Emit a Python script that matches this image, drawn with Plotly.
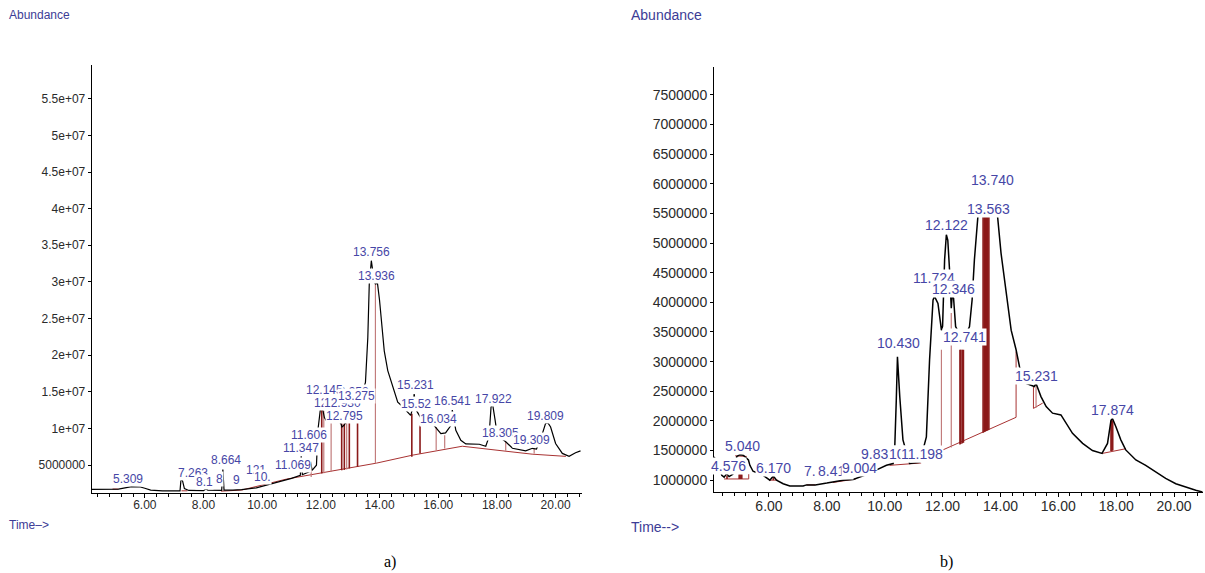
import plotly.graph_objects as go

# ---------------- Panel a) data ----------------
a_time = [4.19, 4.9, 5.1, 5.55, 5.85, 6.0, 6.2, 6.6, 7.2, 7.23, 7.28, 7.35, 7.5, 8.0, 8.08, 8.15,
          8.62, 8.66, 8.70, 9.0, 9.3, 9.8, 10.3, 10.8, 11.0, 11.3, 11.33, 11.37, 11.6, 11.65, 11.7,
          11.85, 11.9, 11.98, 12.05, 12.12, 12.2, 12.4, 12.6, 12.68, 12.72, 12.78, 12.85, 13.0,
          13.3, 13.45, 13.52, 13.6, 13.65, 13.72, 13.76, 13.82, 13.86, 13.93, 14.0, 14.05, 14.16,
          14.28, 14.45, 14.62, 14.73, 15.01, 15.06, 15.12, 15.18, 15.25, 15.4, 15.7, 15.86, 16.09,
          16.25, 16.43, 16.48, 16.6, 16.77, 16.94, 17.4, 17.62, 17.73, 17.8, 17.85, 17.94, 17.98,
          18.1, 18.3, 18.53, 18.98, 19.21, 19.35, 19.55, 19.66, 19.74, 19.83, 20.0, 20.23, 20.46,
          20.68, 20.85]
a_abund = [1.70e6, 1.70e6, 1.72e6, 2.06e6, 2.02e6, 1.85e6, 1.6e6, 1.5e6, 1.5e6, 2.9e6, 2.95e6,
           1.8e6, 1.55e6, 1.52e6, 1.75e6, 1.6e6, 1.55e6, 4.4e6, 1.6e6, 1.6e6, 1.65e6, 1.9e6, 2.4e6,
           2.9e6, 3.2e6, 3.6e6, 6.2e6, 3.7e6, 4.1e6, 5.5e6, 4.3e6, 5.0e6, 9.8e6, 12.5e6, 12.9e6,
           11.5e6, 11.0e6, 11.5e6, 10.9e6, 10.7e6, 10.2e6, 10.4e6, 10.8e6, 11.5e6, 13.5e6, 15.5e6,
           16.3e6, 22.4e6, 29.7e6, 32.9e6, 31.8e6, 30.0e6, 29.7e6, 29.8e6, 27.5e6, 25.1e6, 20.6e6,
           17.9e6, 15.6e6, 13.6e6, 13.2e6, 12.1e6, 11.8e6, 12.6e6, 14.7e6, 12.5e6, 11.5e6, 10.8e6,
           10.4e6, 9.3e6, 9.4e6, 10.4e6, 12.5e6, 9.75e6, 8.4e6, 7.9e6, 7.85e6, 7.58e6, 8.85e6,
           12.9e6, 13.4e6, 11.1e6, 10.0e6, 8.8e6, 8.2e6, 7.3e6, 6.95e6, 7.3e6, 7.2e6, 9.3e6,
           10.7e6, 10.75e6, 10.2e6, 7.95e6, 6.6e6, 6.2e6, 6.7e6, 6.95e6]

a_base_t = [[4.9, 5.1], [7.25, 7.45], [8.6, 9.3, 10.83, 13.89, 15.12, 16.82, 18.31, 19.2, 20.35]]
a_base_a = [[1.74e6, 1.74e6], [1.5e6, 1.5e6],
            [1.45e6, 1.6e6, 3.1e6, 5.27e6, 6.36e6, 7.58e6, 6.9e6, 6.5e6, 6.2e6]]

a_drop_t = [11.67, 12.03, 12.10, 12.35, 12.71, 12.80, 12.88, 12.97, 13.25, 13.86, 15.10, 15.38,
            15.93, 16.22, 18.30, 19.27]
a_drop_lo = [3.4e6, 3.87e6, 3.9e6, 4.1e6, 4.3e6, 4.35e6, 4.4e6, 4.55e6, 4.77e6, 5.23e6, 6.13e6,
             6.6e6, 7.04e6, 7.27e6, 6.95e6, 6.6e6]
a_drop_hi = [5.2e6, 12.9e6, 12.5e6, 12.0e6, 10.7e6, 10.7e6, 10.8e6, 10.8e6, 12.0e6, 29.7e6, 12.0e6,
             10.4e6, 10.2e6, 9.08e6, 8.17e6, 7.27e6]
a_drop_dark = [False, True, False, False, True, True, False, True, True, False, True, True,
               False, False, False, False]

# labels are listed in drawing order (later ones cover earlier ones, as in the reference)
a_labels = ["5.309", "7.263", "8.1", "8", "9", "8.664", "121", "10.", "11.069", "11.347",
            "11.606", "12.958", "12.145", "12.18", "12.930", "12.795", "13.275", "13.756",
            "13.936", "15.231", "15.52", "16.034", "16.541", "17.922", "18.305", "19.309", "19.809"]
a_label_t = [5.43, 7.64, 8.02, 8.55, 9.12, 8.78, 9.8, 10.0, 11.05, 11.33, 11.59, 13.0, 12.12,
             12.27, 12.75, 12.8, 13.2, 13.71, 13.88, 15.21, 15.24, 16.0, 16.47, 17.87, 18.13,
             19.17, 19.66]
a_label_a = [3.1e6, 3.95e6, 2.74e6, 3.1e6, 2.96e6, 5.68e6, 4.3e6, 3.35e6, 5.0e6, 7.35e6, 9.17e6,
             15.0e6, 15.3e6, 13.5e6, 13.5e6, 11.66e6, 14.5e6, 34.1e6, 30.8e6, 15.9e6, 13.3e6,
             11.3e6, 13.7e6, 14.05e6, 9.4e6, 8.4e6, 11.75e6]

a_ytick_vals = [5e6, 1e7, 1.5e7, 2e7, 2.5e7, 3e7, 3.5e7, 4e7, 4.5e7, 5e7, 5.5e7]
a_ytick_text = ["5000000", "1e+07", "1.5e+07", "2e+07", "2.5e+07", "3e+07", "3.5e+07", "4e+07",
                "4.5e+07", "5e+07", "5.5e+07"]

# ---------------- Panel b) data ----------------
b_time = [4.1, 4.25, 4.37, 4.45, 4.54, 4.62, 4.75, 4.89, 5.0, 5.11, 5.29, 5.34, 5.45, 5.8, 6.03,
          6.15, 6.26, 6.49, 6.72, 7.18, 7.3, 7.6, 8.0, 8.22, 8.56, 8.91, 9.3, 9.7, 10.06, 10.29,
          10.34, 10.4, 10.44, 10.52, 10.63, 10.86, 11.21, 11.44, 11.55, 11.67, 11.72, 11.84, 11.96,
          12.0, 12.07, 12.13, 12.18, 12.24, 12.3, 12.33, 12.38, 12.45, 12.6, 12.8, 12.93, 13.02,
          13.1, 13.22, 13.4, 13.6, 13.74, 13.85, 13.9, 14.02, 14.19, 14.37, 14.54, 14.66, 14.89,
          15.17, 15.23, 15.4, 15.58, 15.8, 16.09, 16.2, 16.49, 16.84, 17.18, 17.51, 17.7, 17.82,
          17.87, 17.99, 18.16, 18.33, 18.68, 19.02, 19.37, 19.71, 20.06, 20.4, 20.75, 20.98]
b_abund = [1.39e6, 1.28e6, 1.08e6, 1.05e6, 1.11e6, 1.06e6, 1.1e6, 1.40e6, 1.43e6, 1.42e6, 1.34e6,
           1.25e6, 1.15e6, 1.08e6, 1.0e6, 1.07e6, 1.0e6, 0.94e6, 0.9e6, 0.9e6, 0.92e6, 0.92e6,
           0.95e6, 0.97e6, 1.0e6, 1.01e6, 1.08e6, 1.17e6, 1.25e6, 1.28e6, 1.45e6, 2.35e6, 3.08e6,
           2.41e6, 1.68e6, 1.28e6, 1.3e6, 1.73e6, 3.03e6, 4.04e6, 4.1e6, 3.98e6, 3.53e6, 3.6e6,
           4.72e6, 5.14e6, 5.05e6, 4.55e6, 3.9e6, 4.1e6, 4.07e6, 3.59e6, 3.45e6, 3.45e6, 3.59e6,
           4.04e6, 4.72e6, 5.45e6, 5.6e6, 5.62e6, 5.62e6, 5.6e6, 5.45e6, 4.83e6, 4.15e6, 3.53e6,
           3.2e6, 2.91e6, 2.63e6, 2.58e6, 2.63e6, 2.41e6, 2.24e6, 2.13e6, 2.1e6, 2.01e6, 1.79e6,
           1.62e6, 1.5e6, 1.45e6, 1.62e6, 2.01e6, 2.04e6, 1.9e6, 1.68e6, 1.51e6, 1.34e6, 1.25e6,
           1.14e6, 1.03e6, 0.94e6, 0.88e6, 0.83e6, 0.80e6]

b_base_t = [[4.45, 5.3, 5.3], [4.83, 5.23], [6.0, 6.3], [7.3, 7.6], [8.2, 8.6, 9.0],
            [10.17, 11.26], [12.01, 14.54, 14.54], [15.14, 15.14, 15.46], [17.51, 18.33]]
b_base_a = [[1.02e6, 1.02e6, 1.1e6], [1.41e6, 1.40e6], [1.0e6, 1.0e6], [0.92e6, 0.92e6],
            [0.96e6, 0.99e6, 1.02e6], [1.25e6, 1.29e6], [1.51e6, 2.06e6, 3.17e6],
            [2.58e6, 2.21e6, 2.3e6], [1.45e6, 1.53e6]]

b_drop_t = [4.55, 4.97, 5.0, 5.03, 5.06, 6.15, 11.96, 12.30, 12.60, 12.63, 12.68, 12.72, 13.40,
            13.44, 13.48, 13.52, 13.56, 13.60, 15.23, 17.82, 17.85, 17.88]
b_drop_lo = [1.02e6, 1.02e6, 1.02e6, 1.02e6, 1.02e6, 1.0e6, 1.51e6, 1.55e6, 1.6e6, 1.61e6, 1.62e6,
             1.63e6, 1.8e6, 1.81e6, 1.82e6, 1.83e6, 1.84e6, 1.85e6, 2.22e6, 1.49e6, 1.49e6, 1.5e6]
b_drop_hi = [1.08e6, 1.1e6, 1.1e6, 1.1e6, 1.1e6, 1.06e6, 3.2e6, 3.82e6, 3.2e6, 3.2e6, 3.2e6,
             3.2e6, 5.45e6, 5.45e6, 5.45e6, 5.45e6, 5.45e6, 5.45e6, 2.63e6, 2.0e6, 2.03e6, 2.0e6]
b_drop_dark = [True, True, True, True, True, True, False, False, True, True, True, True, True,
               True, True, True, True, True, False, True, True, True]

b_labels = ["4.576", "5.040", "6.170", "7.", "8.412", "9.004", "9.832", "10.965", "11.198",
            "10.430", "11.724", "12.346", "12.741", "12.122", "13.563", "13.740", "15.231",
            "17.874"]
b_label_t = [4.6, 5.08, 6.15, 7.41, 8.3, 9.14, 9.8, 10.9, 11.3, 10.46, 11.72, 12.38, 12.76,
             12.13, 13.57, 13.74, 15.23, 17.87]
b_label_a = [1.24e6, 1.58e6, 1.2e6, 1.15e6, 1.15e6, 1.2e6, 1.44e6, 1.44e6, 1.44e6, 3.31e6,
             4.41e6, 4.22e6, 3.42e6, 5.31e6, 5.58e6, 6.07e6, 2.76e6, 2.19e6]

b_ytick_vals = [1e6, 1.5e6, 2e6, 2.5e6, 3e6, 3.5e6, 4e6, 4.5e6, 5e6, 5.5e6, 6e6, 6.5e6, 7e6, 7.5e6]
b_ytick_text = ["1000000", "1500000", "2000000", "2500000", "3000000", "3500000", "4000000",
                "4500000", "5000000", "5500000", "6000000", "6500000", "7000000", "7500000"]

x_tick_vals = [6, 8, 10, 12, 14, 16, 18, 20]
x_tick_text = ["6.00", "8.00", "10.00", "12.00", "14.00", "16.00", "18.00", "20.00"]

# ---------------- styling ----------------
W, H = 1205, 573
LABEL_COLOR = "#4646a6"
TICK_COLOR = "#2a2a2a"
DARK_RED = "#8b1a1a"
LIGHT_RED = "#c27c7c"
BASE_RED = "#a83232"
FONT = "Liberation Sans, Arial, sans-serif"

fig = go.Figure()


def add_panel(xa, ya, times, ab, base_t, base_a, d_t, d_lo, d_hi, d_dark, lw):
    for bt, ba in zip(base_t, base_a):
        fig.add_trace(go.Scatter(x=bt, y=ba, mode="lines", xaxis=xa, yaxis=ya,
                                 line=dict(color=BASE_RED, width=1), showlegend=False,
                                 hoverinfo="skip"))
    for dark in (True, False):
        xs, ys = [], []
        for t, lo, hi, dk in zip(d_t, d_lo, d_hi, d_dark):
            if dk == dark:
                xs += [t, t, None]
                ys += [lo, hi, None]
        if xs:
            fig.add_trace(go.Scatter(x=xs, y=ys, mode="lines", xaxis=xa, yaxis=ya,
                                     line=dict(color=DARK_RED if dark else LIGHT_RED,
                                               width=1.6 if dark else 1.2),
                                     showlegend=False, hoverinfo="skip"))
    fig.add_trace(go.Scatter(x=times, y=ab, mode="lines", xaxis=xa, yaxis=ya,
                             line=dict(color="black", width=lw), showlegend=False,
                             hoverinfo="skip"))


add_panel("x", "y", a_time, a_abund, a_base_t, a_base_a, a_drop_t, a_drop_lo, a_drop_hi,
          a_drop_dark, 1.2)
add_panel("x2", "y2", b_time, b_abund, b_base_t, b_base_a, b_drop_t, b_drop_lo, b_drop_hi,
          b_drop_dark, 1.5)

annotations = []
for txt, t, a in zip(a_labels, a_label_t, a_label_a):
    annotations.append(dict(x=t, y=a, xref="x", yref="y", text=txt, showarrow=False,
                            font=dict(family=FONT, size=12, color=LABEL_COLOR),
                            bgcolor="white", borderpad=0))
for txt, t, a in zip(b_labels, b_label_t, b_label_a):
    annotations.append(dict(x=t, y=a, xref="x2", yref="y2", text=txt, showarrow=False,
                            font=dict(family=FONT, size=14, color=LABEL_COLOR),
                            bgcolor="white", borderpad=0))

for txt, px, py, fs in [("Abundance", 7, 15, 12), ("Abundance", 629, 15, 14),
                        ("Time–>", 7, 525, 12), ("Time-->", 629, 527, 14)]:
    annotations.append(dict(x=px / W, y=1 - py / H, xref="paper", yref="paper", text=txt,
                            showarrow=False, xanchor="left", yanchor="middle",
                            font=dict(family=FONT, size=fs, color="#3c3c96")))
for txt, px, py in [("a)", 390, 562), ("b)", 946, 562)]:
    annotations.append(dict(x=px / W, y=1 - py / H, xref="paper", yref="paper", text=txt,
                            showarrow=False, xanchor="center", yanchor="middle",
                            font=dict(family="Liberation Serif, Times New Roman, serif",
                                      size=16, color="black")))


def xaxis_common(fs):
    return dict(showline=True, linecolor="black", linewidth=1, showgrid=False,
                zeroline=False, ticks="outside", ticklen=4, tickcolor="black",
                ticklabelstandoff=-3,
                tickvals=x_tick_vals, ticktext=x_tick_text,
                tickfont=dict(family=FONT, size=fs, color=TICK_COLOR),
                minor=dict(ticks="outside", ticklen=3, tickcolor="black", dtick=0.4,
                           tick0=0, showgrid=False))


def yaxis_common(fs):
    return dict(showline=True, linecolor="black", linewidth=1, showgrid=False,
                zeroline=False, ticks="outside", ticklen=3, tickcolor="black",
                tickfont=dict(family=FONT, size=fs, color=TICK_COLOR))


fig.update_layout(
    width=W, height=H, margin=dict(l=0, r=0, t=0, b=0),
    paper_bgcolor="white", plot_bgcolor="white", showlegend=False,
    xaxis=dict(domain=[91.7 / W, 582 / W], range=[4.19, 20.9], anchor="y", **xaxis_common(12)),
    yaxis=dict(domain=[1 - 493 / H, 1 - 65 / H], range=[1.2e6, 5.96e7], anchor="x",
               tickvals=a_ytick_vals, ticktext=a_ytick_text, **yaxis_common(12)),
    xaxis2=dict(domain=[714 / W, 1203 / W], range=[4.1, 21.0], anchor="y2", **xaxis_common(14)),
    yaxis2=dict(domain=[1 - 492 / H, 1 - 67 / H], range=[8.0e5, 7.97e6], anchor="x2",
                tickvals=b_ytick_vals, ticktext=b_ytick_text, **yaxis_common(14)),
    annotations=annotations,
)

fig.write_html("out.html")
